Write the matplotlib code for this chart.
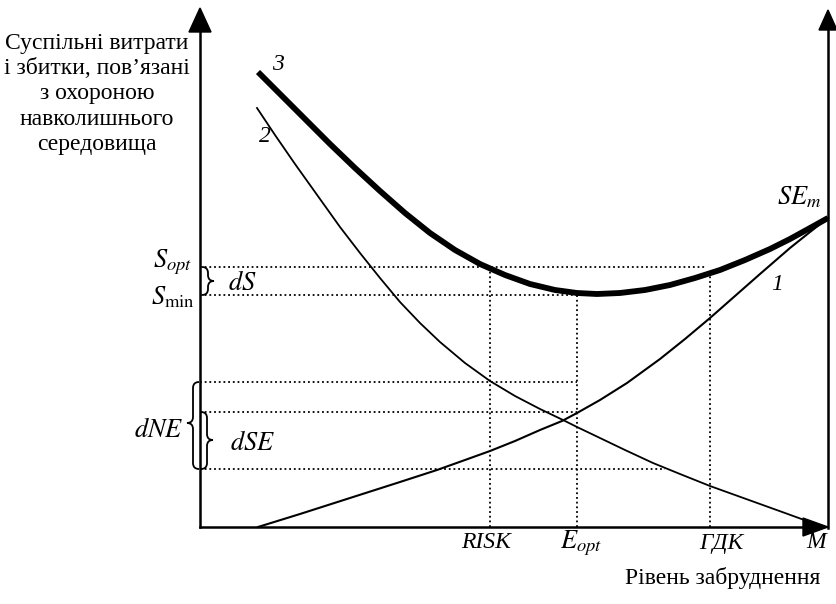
import numpy as np
import matplotlib; matplotlib.use('Agg')
import matplotlib.pyplot as plt
from matplotlib.path import Path
from matplotlib.patches import PathPatch, Polygon

# Curves (x = pollution level, y = costs), in plot units
c1_x = [58, 100, 150, 200, 237, 265, 290, 315, 340, 362, 377, 400, 427, 460, 485, 510, 535, 560, 590, 610, 628]
c1_y = [0, 13, 29, 45, 57, 67, 76, 86, 97, 106, 114, 127, 144, 168, 188, 209, 231, 253, 279, 295, 309]

c2_x = [57, 75, 95, 115, 140, 160, 180, 200, 220, 240, 265, 290, 315, 340, 363, 377, 400, 425, 453,
        480, 510, 535, 560, 585, 607, 626]
c2_y = [419, 392, 363, 335, 300, 274, 249, 225, 204, 185, 164, 146, 131, 118, 107, 100, 89, 77, 64,
        53, 41, 32, 23, 14, 6, 0]

c3_x = [58, 80, 105, 130, 155, 180, 205, 230, 255, 280, 305, 330, 355, 377, 397, 420, 445, 470, 495,
        520, 545, 570, 590, 610, 628]
c3_y = [455, 433, 408, 383, 359, 336, 314, 294, 277, 263, 252, 243, 237, 234, 233, 234, 237, 242, 249,
        257, 267, 278, 288, 299, 309]

# reference levels
S_opt, S_min = 260, 232
NE_top, SE_top, SE_bot = 145, 115, 58
x_risk, x_eopt, x_gdk, x_m = 290, 377, 510, 628

plt.rcParams['mathtext.fontset'] = 'stix'
serif = 'Liberation Serif'

fig = plt.figure(figsize=(8.37, 6.04), dpi=100)
ax = fig.add_axes([0, 0, 1, 1])
ax.set_xlim(-200, 637)
ax.set_ylim(-77, 527)
ax.axis('off')

# axes with arrows
ax.plot([0, 0], [0, 500], color='black', lw=1.8)
ax.add_patch(Polygon([[-11, 495], [11, 495], [0, 519]], closed=True, color='black'))
ax.plot([x_m, x_m], [-1, 500], color='black', lw=1.8)
ax.add_patch(Polygon([[x_m - 9, 497], [x_m + 9, 497], [x_m, 517]], closed=True, color='black'))
ax.plot([0, 610], [0, 0], color='black', lw=1.8)
ax.add_patch(Polygon([[603, 9], [603, -9], [x_m, 0]], closed=True, color='black'))

# dotted guide lines
dot = dict(color='black', lw=1.3, ls=(0, (1, 1.6)))
ax.plot([0, 505], [S_opt, S_opt], **dot)
ax.plot([0, 390], [S_min, S_min], **dot)
ax.plot([0, x_eopt], [NE_top, NE_top], **dot)
ax.plot([0, x_eopt], [SE_top, SE_top], **dot)
ax.plot([0, 465], [SE_bot, SE_bot], **dot)
ax.plot([x_risk, x_risk], [0, S_opt], **dot)
ax.plot([x_eopt, x_eopt], [0, S_min], **dot)
ax.plot([x_gdk, x_gdk], [0, 255], **dot)

# curves
ax.plot(c1_x, c1_y, color='black', lw=1.5, solid_joinstyle='round')
ax.plot(c2_x, c2_y, color='black', lw=1.3, solid_joinstyle='round')
ax.plot(c3_x, c3_y, color='black', lw=4.2, solid_joinstyle='round', solid_capstyle='butt')


def brace(x, y0, y1, w, ym=None):
    # vertical curly brace from y0 to y1, tip at x + w
    if ym is None:
        ym = (y0 + y1) / 2
    r = min(6, abs(y1 - y0) / 4)
    h = x + w / 2
    verts = [(x, y1), (h, y1), (h, y1 - r), (h, ym + r), (h, ym), (x + w, ym),
             (h, ym), (h, ym - r), (h, y0 + r), (h, y0), (x, y0)]
    codes = [Path.MOVETO, Path.CURVE3, Path.CURVE3, Path.LINETO, Path.CURVE3, Path.CURVE3,
             Path.CURVE3, Path.CURVE3, Path.LINETO, Path.CURVE3, Path.CURVE3]
    ax.add_patch(PathPatch(Path(verts, codes), fill=False, lw=1.3, color='black'))


brace(2, S_min, S_opt, 12)
brace(-1, SE_bot, NE_top, -12, ym=104)
brace(1, SE_bot, SE_top, 12, ym=87)

# texts
ax.text(-103, 433, 'Суспільні витрати\nі збитки, пов’язані\nз охороною\nнавколишнього\nсередовища',
        family=serif, fontsize=17, ha='center', va='center', linespacing=1.27)
ax.text(523, -51, 'Рівень забруднення', family=serif, fontsize=17, ha='center', va='center')

ax.text(x_risk - 4, -16, 'RISK', family=serif, style='italic', fontsize=17, ha='center', va='center')
ax.text(x_eopt + 4, -16, r'$E_{opt}$', fontsize=19, ha='center', va='center')
ax.text(x_gdk + 11, -16, 'ГДК', family=serif, style='italic', fontsize=17, ha='center', va='center')
ax.text(x_m - 12, -16, 'M', family=serif, style='italic', fontsize=17, ha='center', va='center')

ax.text(-8, 265, r'$S_{opt}$', fontsize=19, ha='right', va='center')
ax.text(-5, 230, r'$S_{\min}$', fontsize=19, ha='right', va='center')
ax.text(28, 244, r'$dS$', fontsize=19, ha='left', va='center')
ax.text(-17, 97, r'$dNE$', fontsize=19, ha='right', va='center')
ax.text(30, 84, r'$dSE$', fontsize=19, ha='left', va='center')
ax.text(577, 330, r'$SE_m$', fontsize=19, ha='left', va='center')

ax.text(577, 242, '1', family=serif, style='italic', fontsize=17, ha='center', va='center')
ax.text(65, 390, '2', family=serif, style='italic', fontsize=17, ha='center', va='center')
ax.text(78, 463, '3', family=serif, style='italic', fontsize=17, ha='center', va='center')

fig.savefig('out.png', dpi=100, facecolor='white')
